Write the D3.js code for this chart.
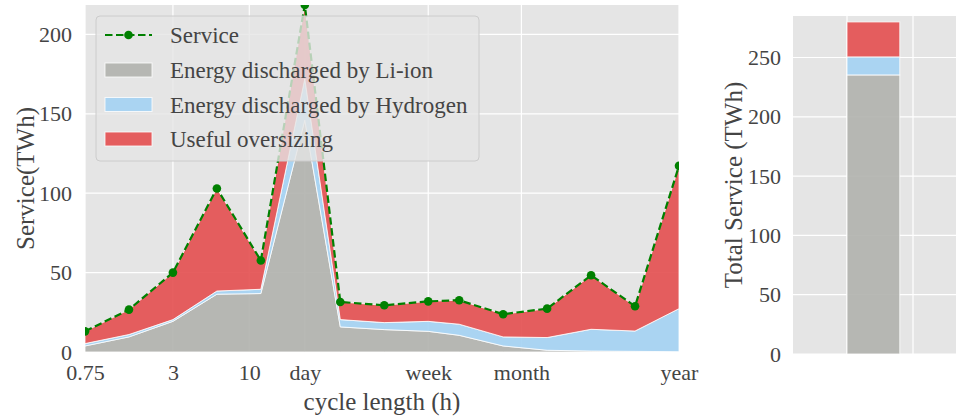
<!DOCTYPE html>
<html>
<head>
<meta charset="utf-8">
<script src="https://cdn.jsdelivr.net/npm/d3@7"></script>
<style>
  body { margin: 0; background: white; }
  text { font-family: "Liberation Serif", serif; fill: #444; }
</style>
</head>
<body>
<div id="container"></div>
<script>
/* CONSTANTS AND GLOBALS */
const width = 956,
  height = 420;

// cycle length (hours) of each storage bin
const cycleHours = [0.75, 1.5, 3, 6, 12, 24, 42, 84, 168, 273.75, 547.5, 1095, 2190, 4380, 8760]
const liion = [3.8, 9.5, 19.3, 36.4, 36.8, 146, 15.8, 14.1, 13.0, 10.5, 3.8, 1.1, 0.6, 0.4, 0.2]
const hydrogen = [1.5, 1.5, 1.1, 2.0, 2.7, 26, 4.6, 4.4, 6.3, 7.0, 5.7, 8.0, 13.7, 12.8, 27.1]
const oversizing = [7.7, 15.7, 29.6, 64.6, 18.1, 46.5, 11.1, 10.9, 12.6, 15.1, 14.3, 18.2, 34, 15.6, 89.9]
const service = [13, 26.7, 50, 103, 57.6, 218.5, 31.5, 29.4, 31.9, 32.6, 23.8, 27.3, 48.3, 28.8, 117.2]

const xTickValues = [0.75, 3, 10, 24, 168, 730, 8760]
const xTickLabels = ["0.75", "3", "10", "day", "week", "month", "year"]
const yTicksLeft = [0, 50, 100, 150, 200]

// totals for the bar on the right
const totalLiion = 235.3
const totalHydrogen = 15.2
const totalOversizing = 29.5
const yTicksRight = [0, 50, 100, 150, 200, 250]

const keys = ["liion", "hydrogen", "oversizing"]
const colors = { liion: "#b0b1ad", hydrogen: "#a3d2f3", oversizing: "#e34e4f" }
const legendLabels = ["Energy discharged by Li-ion", "Energy discharged by Hydrogen", "Useful oversizing"]

const svg = d3.select("#container")
  .append("svg")
  .attr("width", width)
  .attr("height", height);

/* LEFT PANEL */
const left = { x0: 85, x1: 679, y0: 5, y1: 352 }

const x = d3.scaleLog()
  .domain([0.75, 8760])
  .range([left.x0, left.x1])

const y = d3.scaleLinear()
  .domain([0, 218.5])
  .range([left.y1, left.y0])

svg.append("rect")
  .attr("x", left.x0).attr("y", left.y0)
  .attr("width", left.x1 - left.x0).attr("height", left.y1 - left.y0)
  .attr("fill", "#e5e5e5")

svg.append("clipPath").attr("id", "clipLeft")
  .append("rect")
  .attr("x", left.x0).attr("y", left.y0)
  .attr("width", left.x1 - left.x0).attr("height", left.y1 - left.y0)

// grid
svg.append("g").selectAll("line")
  .data(yTicksLeft)
  .join("line")
  .attr("x1", left.x0).attr("x2", left.x1)
  .attr("y1", d => y(d)).attr("y2", d => y(d))
  .attr("stroke", "white").attr("stroke-width", 1.2)

svg.append("g").selectAll("line")
  .data(xTickValues)
  .join("line")
  .attr("x1", d => x(d)).attr("x2", d => x(d))
  .attr("y1", left.y0).attr("y2", left.y1)
  .attr("stroke", "white").attr("stroke-width", 1.2)

const rows = cycleHours.map((h, i) => ({
  h, liion: liion[i], hydrogen: hydrogen[i], oversizing: oversizing[i]
}))
const stack = d3.stack().keys(keys)(rows)

const areaGen = d3.area()
  .x(d => x(d.data.h))
  .y0(d => y(d[0]))
  .y1(d => y(d[1]))

const plot = svg.append("g").attr("clip-path", "url(#clipLeft)")

plot.selectAll("path.layer")
  .data(stack)
  .join("path")
  .attr("class", "layer")
  .attr("d", areaGen)
  .attr("fill", d => colors[d.key])
  .attr("fill-opacity", 0.9)
  .attr("stroke", "white")
  .attr("stroke-width", 1)
  .attr("stroke-opacity", 0.8)

const lineGen = d3.line()
  .x((d, i) => x(cycleHours[i]))
  .y(d => y(d))

plot.append("path")
  .attr("d", lineGen(service))
  .attr("fill", "none")
  .attr("stroke", "green")
  .attr("stroke-width", 2.2)
  .attr("stroke-dasharray", "7.5,3.5")

plot.selectAll("circle.service")
  .data(service)
  .join("circle")
  .attr("class", "service")
  .attr("cx", (d, i) => x(cycleHours[i]))
  .attr("cy", d => y(d))
  .attr("r", 4.3)
  .attr("fill", "green")

// axes
const xAxis = svg.append("g")
  .attr("transform", `translate(0, ${left.y1})`)
  .call(d3.axisBottom(x).tickValues(xTickValues).tickFormat((d, i) => xTickLabels[i]).tickSize(0).tickPadding(12))
xAxis.select(".domain").remove()
xAxis.selectAll("text").attr("font-size", 22).attr("fill", "#444").attr("font-family", "Liberation Serif")

const yAxis = svg.append("g")
  .attr("transform", `translate(${left.x0}, 0)`)
  .call(d3.axisLeft(y).tickValues(yTicksLeft).tickSize(0).tickPadding(13))
yAxis.select(".domain").remove()
yAxis.selectAll("text").attr("font-size", 22).attr("fill", "#444").attr("font-family", "Liberation Serif")

svg.append("text")
  .attr("x", (left.x0 + left.x1) / 2).attr("y", 410)
  .attr("text-anchor", "middle")
  .attr("font-size", 25)
  .text("cycle length (h)")

svg.append("text")
  .attr("transform", `translate(34, ${(left.y0 + left.y1) / 2}) rotate(-90)`)
  .attr("text-anchor", "middle")
  .attr("font-size", 25)
  .text("Service(TWh)")

// legend
const legend = svg.append("g")
legend.append("rect")
  .attr("x", 96).attr("y", 16)
  .attr("width", 383).attr("height", 145)
  .attr("rx", 4)
  .attr("fill", "#e5e5e5").attr("fill-opacity", 0.8)
  .attr("stroke", "#cccccc").attr("stroke-width", 1)

legend.append("line")
  .attr("x1", 105).attr("x2", 152).attr("y1", 35).attr("y2", 35)
  .attr("stroke", "green").attr("stroke-width", 2.2).attr("stroke-dasharray", "7.5,3.5")
legend.append("circle")
  .attr("cx", 128.5).attr("cy", 35).attr("r", 4.3).attr("fill", "green")
legend.append("text")
  .attr("x", 170).attr("y", 35).attr("dy", "0.35em")
  .attr("font-size", 23)
  .text("Service")

legend.selectAll("rect.patch")
  .data(keys)
  .join("rect")
  .attr("class", "patch")
  .attr("x", 105).attr("y", (d, i) => 63 + i * 34.5)
  .attr("width", 47).attr("height", 14)
  .attr("fill", d => colors[d]).attr("fill-opacity", 0.9)
  .attr("stroke", "white").attr("stroke-width", 1).attr("stroke-opacity", 0.8)

legend.selectAll("text.lab")
  .data(legendLabels)
  .join("text")
  .attr("class", "lab")
  .attr("x", 170).attr("y", (d, i) => 70 + i * 34.5).attr("dy", "0.35em")
  .attr("font-size", 23)
  .text(d => d)

/* RIGHT PANEL */
const right = { x0: 793, x1: 960, y0: 16, y1: 354 }

const xb = d3.scaleLinear()
  .domain([0, 1])
  .range([847, 913])

const yb = d3.scaleLinear()
  .domain([0, 285])
  .range([right.y1, right.y0])

svg.append("rect")
  .attr("x", right.x0).attr("y", right.y0)
  .attr("width", right.x1 - right.x0).attr("height", right.y1 - right.y0)
  .attr("fill", "#e5e5e5")

svg.append("g").selectAll("line")
  .data(yTicksRight)
  .join("line")
  .attr("x1", right.x0).attr("x2", right.x1)
  .attr("y1", d => yb(d)).attr("y2", d => yb(d))
  .attr("stroke", "white").attr("stroke-width", 1.2)

svg.append("g").selectAll("line")
  .data([0, 1, 2])
  .join("line")
  .attr("x1", d => xb(d)).attr("x2", d => xb(d))
  .attr("y1", right.y0).attr("y2", right.y1)
  .attr("stroke", "white").attr("stroke-width", 1.2)

const barRow = [{ liion: totalLiion, hydrogen: totalHydrogen, oversizing: totalOversizing }]
const barStack = d3.stack().keys(keys)(barRow)

svg.append("g").selectAll("rect")
  .data(barStack)
  .join("rect")
  .attr("x", xb(0))
  .attr("width", xb(0.8) - xb(0))
  .attr("y", d => yb(d[0][1]))
  .attr("height", d => yb(d[0][0]) - yb(d[0][1]))
  .attr("fill", d => colors[d.key]).attr("fill-opacity", 0.9)
  .attr("stroke", "white").attr("stroke-width", 1).attr("stroke-opacity", 0.8)

const ybAxis = svg.append("g")
  .attr("transform", `translate(${right.x0}, 0)`)
  .call(d3.axisLeft(yb).tickValues(yTicksRight).tickSize(0).tickPadding(12))
ybAxis.select(".domain").remove()
ybAxis.selectAll("text").attr("font-size", 22).attr("fill", "#444").attr("font-family", "Liberation Serif")

svg.append("text")
  .attr("transform", `translate(742, ${(right.y0 + right.y1) / 2}) rotate(-90)`)
  .attr("text-anchor", "middle")
  .attr("font-size", 25)
  .text("Total Service (TWh)")
</script>
</body>
</html>
